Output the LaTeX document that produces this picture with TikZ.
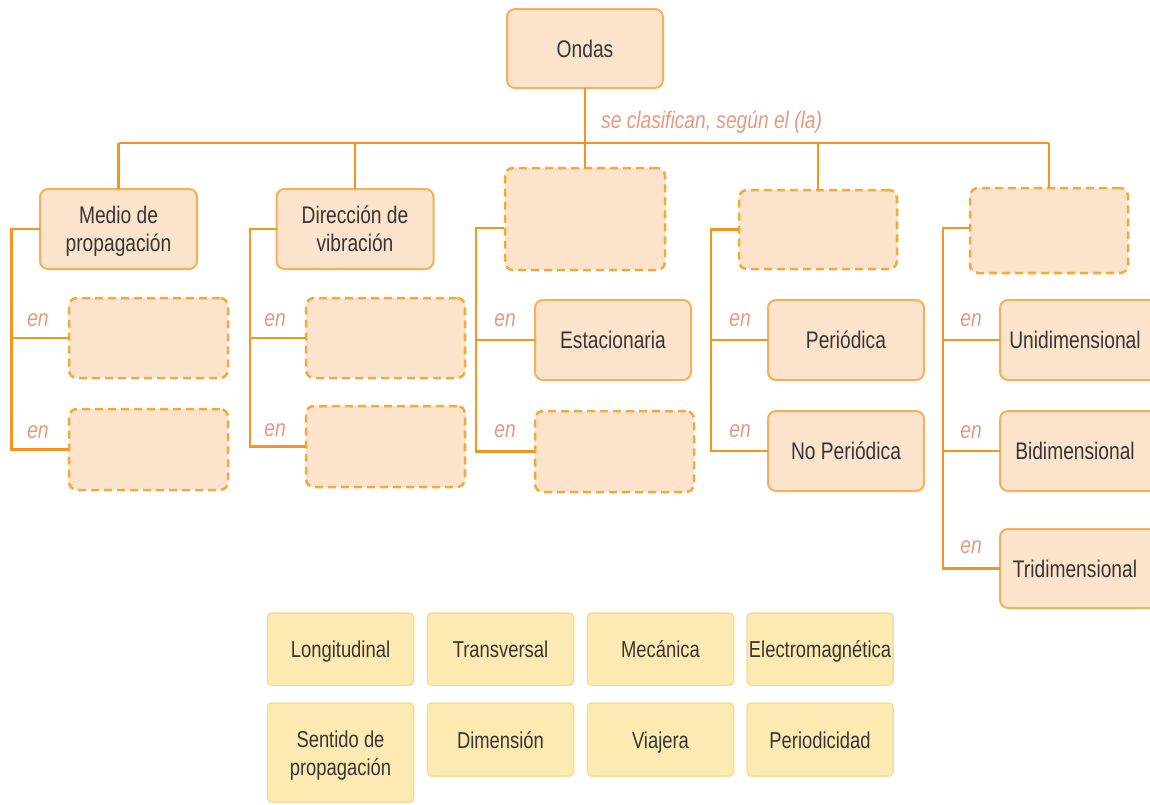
\documentclass[tikz,border=0pt]{standalone}
\usepackage{fontspec}
\setmainfont{Liberation Sans}[FakeStretch=0.8]
\definecolor{boxfill}{HTML}{FCE4CC}
\definecolor{boxline}{HTML}{F6B05A}
\definecolor{conn}{HTML}{F7941E}
\definecolor{dashline}{HTML}{F5A93A}
\definecolor{legfill}{HTML}{FDEAB2}
\definecolor{legline}{HTML}{F9DC94}
\definecolor{txt}{HTML}{363636}
\definecolor{lbl}{HTML}{E8997E}
\newcommand{\tline}[1]{\rule[-5.5pt]{0pt}{28pt}#1}
\begin{document}
\begin{tikzpicture}[x=1pt,y=-1pt,
  concept/.style={draw=boxline, fill=boxfill, line width=2pt, rounded corners=8pt,
    minimum width=157pt, minimum height=80pt, text=txt,
    font=\fontsize{24}{28}\selectfont, align=center, inner sep=0pt, outer sep=0pt},
  blank/.style={concept, draw=dashline, dash pattern=on 8pt off 5pt, line width=2.5pt},
  legend/.style={draw=legline, fill=legfill, line width=1.5pt, rounded corners=4pt,
    minimum width=146pt, minimum height=72pt, text=txt,
    font=\fontsize{23}{28}\selectfont, align=center, inner sep=0pt, outer sep=0pt},
  link/.style={draw=conn, line width=2.5pt},
  enlbl/.style={text=lbl, font=\fontsize{24}{28}\selectfont\itshape, inner sep=0pt}
]
\clip (0,0) rectangle (1150,804);
\fill[white] (0,0) rectangle (1150,804);

% root
\node[concept, minimum width=156pt, minimum height=79pt] (ondas) at (585,48.5) {\tline{Ondas}};

% level 1
\node[concept] (med) at (118.5,229) {\tline{Medio de}\\\tline{propagación}};
\node[concept] (dir) at (355,229) {\tline{Dirección de}\\\tline{vibración}};
\node[blank, minimum width=160pt, minimum height=102pt] (b3) at (585,219) {};
\node[blank, minimum width=158pt, minimum height=79pt] (b4) at (818,229.5) {};
\node[blank, minimum width=158pt, minimum height=85pt] (b5) at (1049,230.5) {};

% level 2
\node[blank, minimum width=159pt] (m1) at (148.5,338) {};
\node[blank, minimum width=159pt, minimum height=81pt] (m2) at (148.5,449.5) {};
\node[blank, minimum width=159pt] (d1) at (385.5,338) {};
\node[blank, minimum width=159pt, minimum height=81pt] (d2) at (385.5,446.5) {};
\node[concept, minimum width=156pt] (est) at (613,340) {\tline{Estacionaria}};
\node[blank, minimum width=159pt, minimum height=81pt] (b32) at (614.5,451.5) {};
\node[concept, minimum width=156pt] (per) at (846,340) {\tline{Periódica}};
\node[concept, minimum width=156pt] (noper) at (846,451) {\tline{No Periódica}};
\node[concept, minimum width=160pt] (uni) at (1080,340) {\hspace*{-10pt}\tline{Unidimensional}};
\node[concept, minimum width=160pt] (bi) at (1080,451) {\hspace*{-10pt}\tline{Bidimensional}};
\node[concept, minimum width=160pt, minimum height=79pt] (tri) at (1080,568.5) {\hspace*{-10pt}\tline{Tridimensional}};

% main bus
\coordinate (busL) at (118.5,143);
\coordinate (busR) at (1049,143);
\draw[link] (ondas.south) -- (b3.north);
\draw[link] (busL) -- (busR);
\draw[link] (med.north) -- (med.north |- busL);
\draw[link] (dir.north) -- (dir.north |- busL);
\draw[link] (b4.north) -- (b4.north |- busL);
\draw[link] (b5.north) -- (b5.north |- busL);
\node[enlbl, anchor=base west] (lblroot) at (601,128) {se clasifican, según el (la)};

% column spines
\coordinate (sm) at (11.5,0);
\coordinate (sd) at (250,0);
\coordinate (s3) at (476,0);
\coordinate (s4) at (711,0);
\coordinate (s5) at (943,0);
\coordinate (b3w) at (504,228);

\draw[link] (med.west) -- (med.west -| sm) -- (m2.west -| sm) -- (m2.west);
\draw[link] (m1.west -| sm) -- (m1.west);
\draw[link] (dir.west) -- (dir.west -| sd) -- (d2.west -| sd) -- (d2.west);
\draw[link] (d1.west -| sd) -- (d1.west);
\draw[link] (b3w) -- (b3w -| s3) -- (b32.west -| s3) -- (b32.west);
\draw[link] (est.west -| s3) -- (est.west);
\draw[link] (b4.west) -- (b4.west -| s4) -- (noper.west -| s4) -- (noper.west);
\draw[link] (per.west -| s4) -- (per.west);
\draw[link] ([yshift=2.5pt]b5.west) -- ([yshift=2.5pt]b5.west -| s5) -- (tri.west -| s5) -- (tri.west);
\draw[link] (uni.west -| s5) -- (uni.west);
\draw[link] (bi.west -| s5) -- (bi.west);

% en labels
\node[enlbl] (e1) at (38,320) {en};
\node[enlbl] (e2) at (38,432) {en};
\node[enlbl] (e3) at (275,320) {en};
\node[enlbl] (e4) at (275,430) {en};
\node[enlbl] (e5) at (505,320) {en};
\node[enlbl] (e6) at (505,431) {en};
\node[enlbl] (e7) at (740,320) {en};
\node[enlbl] (e8) at (740,431) {en};
\node[enlbl] (e9) at (971,320) {en};
\node[enlbl] (e10) at (971,432) {en};
\node[enlbl] (e11) at (971,547) {en};

% legend
\node[legend] (l1) at (340.5,649) {\tline{Longitudinal}};
\node[legend] (l2) at (500.5,649) {\tline{Transversal}};
\node[legend] (l3) at (660.5,649) {\tline{Mecánica}};
\node[legend] (l4) at (820,649) {\tline{Electromagnética}};
\node[legend, minimum height=99pt] (l5) at (340.5,752.5) {\tline{Sentido de}\\\tline{propagación}};
\node[legend, minimum height=73pt] (l6) at (500.5,739.5) {\tline{Dimensión}};
\node[legend, minimum height=73pt] (l7) at (660.5,739.5) {\tline{Viajera}};
\node[legend, minimum height=73pt] (l8) at (820,739.5) {\tline{Periodicidad}};
\end{tikzpicture}
\end{document}
